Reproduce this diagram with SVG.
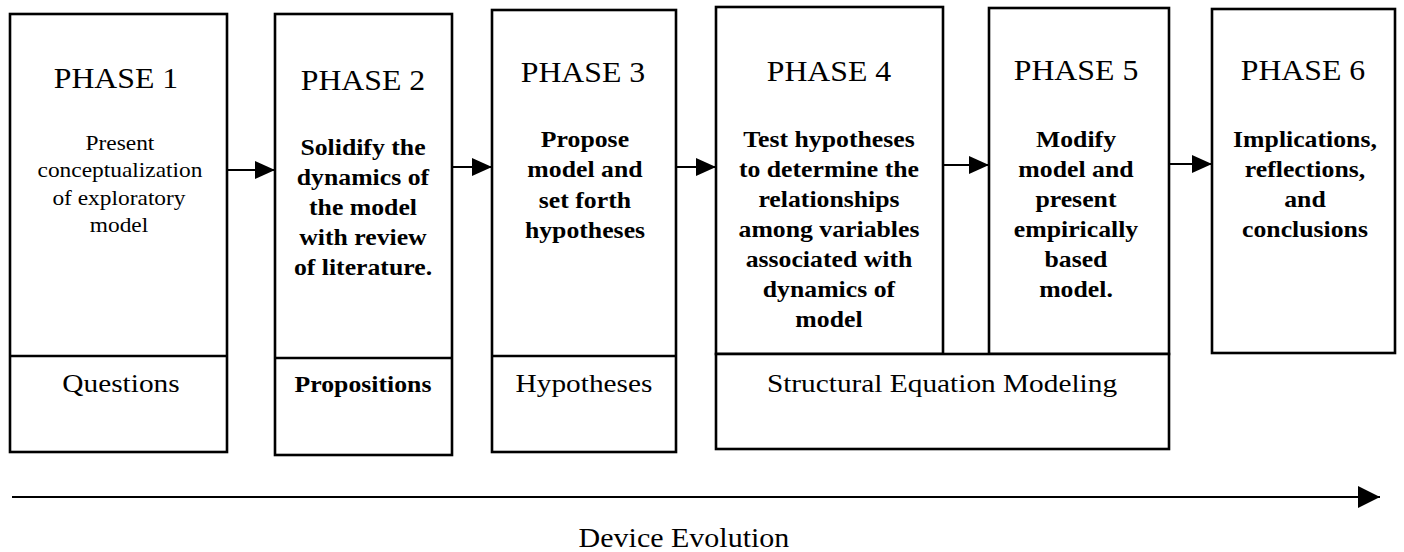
<svg xmlns="http://www.w3.org/2000/svg" width="1404" height="552" viewBox="0 0 1404 552">
  <style>
    .box { fill: #ffffff; stroke: #000000; stroke-width: 2.6; }
    .link { stroke: #000000; stroke-width: 2.2; fill: none; }
    text { font-family: "Liberation Serif", "Times New Roman", serif; fill: #000000; text-anchor: middle;
           transform-box: fill-box; transform-origin: center; transform: scaleX(1.12); }
    .head { font-size: 28.4px; }
    .body { font-size: 23px; font-weight: bold; }
    .body1 { font-size: 20.9px; }
    .label { font-size: 26.2px; }
    .labelb { font-size: 23px; font-weight: bold; }
    .axis { font-size: 26.8px; }
  </style>
  <defs>
    <marker id="arrow" viewBox="0 0 20 20" markerWidth="20" markerHeight="20" refX="20" refY="10" orient="auto" markerUnits="userSpaceOnUse">
      <path d="M0,1 L20,10 L0,19 z" fill="#000000"/>
    </marker>
    <marker id="arrowBig" viewBox="0 0 22 22" markerWidth="22" markerHeight="22" refX="22" refY="11" orient="auto" markerUnits="userSpaceOnUse">
      <path d="M0,0 L22,11 L0,22 z" fill="#000000"/>
    </marker>
  </defs>

  <g id="phase1">
    <rect class="box" x="10" y="14" width="217" height="438"/>
    <line class="box" x1="10" y1="356" x2="227" y2="356"/>
    <text class="head" x="116" y="88">PHASE 1</text>
    <text class="body1" x="120" y="150">Present</text>
    <text class="body1" x="120" y="177">conceptualization</text>
    <text class="body1" x="119" y="205">of exploratory</text>
    <text class="body1" x="119" y="232">model</text>
    <text class="label" x="121" y="392">Questions</text>
  </g>

  <g id="phase2">
    <rect class="box" x="275" y="14" width="177" height="441"/>
    <line class="box" x1="275" y1="358" x2="452" y2="358"/>
    <text class="head" x="363" y="90">PHASE 2</text>
    <text class="body" x="363" y="155">Solidify the</text>
    <text class="body" x="363" y="185">dynamics of</text>
    <text class="body" x="363" y="215">the model</text>
    <text class="body" x="363" y="245">with review</text>
    <text class="body" x="363" y="275">of literature.</text>
    <text class="labelb" x="363" y="392">Propositions</text>
  </g>

  <g id="phase3">
    <rect class="box" x="492" y="10" width="184" height="442"/>
    <line class="box" x1="492" y1="356" x2="676" y2="356"/>
    <text class="head" x="583" y="82">PHASE 3</text>
    <text class="body" x="585" y="147">Propose</text>
    <text class="body" x="585" y="177">model and</text>
    <text class="body" x="585" y="208">set forth</text>
    <text class="body" x="585" y="238">hypotheses</text>
    <text class="label" x="584" y="392">Hypotheses</text>
  </g>

  <g id="phase4">
    <rect class="box" x="716" y="7" width="227" height="347"/>
    <text class="head" x="829" y="81">PHASE 4</text>
    <text class="body" x="829" y="147">Test hypotheses</text>
    <text class="body" x="829" y="177">to determine the</text>
    <text class="body" x="829" y="207">relationships</text>
    <text class="body" x="829" y="237">among variables</text>
    <text class="body" x="829" y="267">associated with</text>
    <text class="body" x="829" y="297">dynamics of</text>
    <text class="body" x="829" y="327">model</text>
  </g>

  <g id="phase5">
    <rect class="box" x="989" y="8" width="180" height="346"/>
    <text class="head" x="1076" y="80">PHASE 5</text>
    <text class="body" x="1076" y="147">Modify</text>
    <text class="body" x="1076" y="177">model and</text>
    <text class="body" x="1076" y="207">present</text>
    <text class="body" x="1076" y="237">empirically</text>
    <text class="body" x="1076" y="267">based</text>
    <text class="body" x="1076" y="297">model.</text>
  </g>

  <g id="sem">
    <rect class="box" x="716" y="354" width="453" height="95"/>
    <text class="label" x="942" y="392">Structural Equation Modeling</text>
  </g>

  <g id="phase6">
    <rect class="box" x="1212" y="9" width="183" height="344"/>
    <text class="head" x="1303" y="80">PHASE 6</text>
    <text class="body" x="1305" y="147">Implications,</text>
    <text class="body" x="1305" y="177">reflections,</text>
    <text class="body" x="1305" y="207">and</text>
    <text class="body" x="1305" y="237">conclusions</text>
  </g>

  <g id="connectors">
    <line class="link" x1="227" y1="170" x2="275" y2="170" marker-end="url(#arrow)"/>
    <line class="link" x1="452" y1="167" x2="492" y2="167" marker-end="url(#arrow)"/>
    <line class="link" x1="676" y1="167" x2="716" y2="167" marker-end="url(#arrow)"/>
    <line class="link" x1="943" y1="165" x2="989" y2="165" marker-end="url(#arrow)"/>
    <line class="link" x1="1169" y1="164" x2="1212" y2="164" marker-end="url(#arrow)"/>
  </g>

  <g id="timeline">
    <line class="link" x1="12" y1="497" x2="1380" y2="497" stroke-width="2.5" marker-end="url(#arrowBig)"/>
    <text class="axis" x="684" y="547">Device Evolution</text>
  </g>
</svg>
